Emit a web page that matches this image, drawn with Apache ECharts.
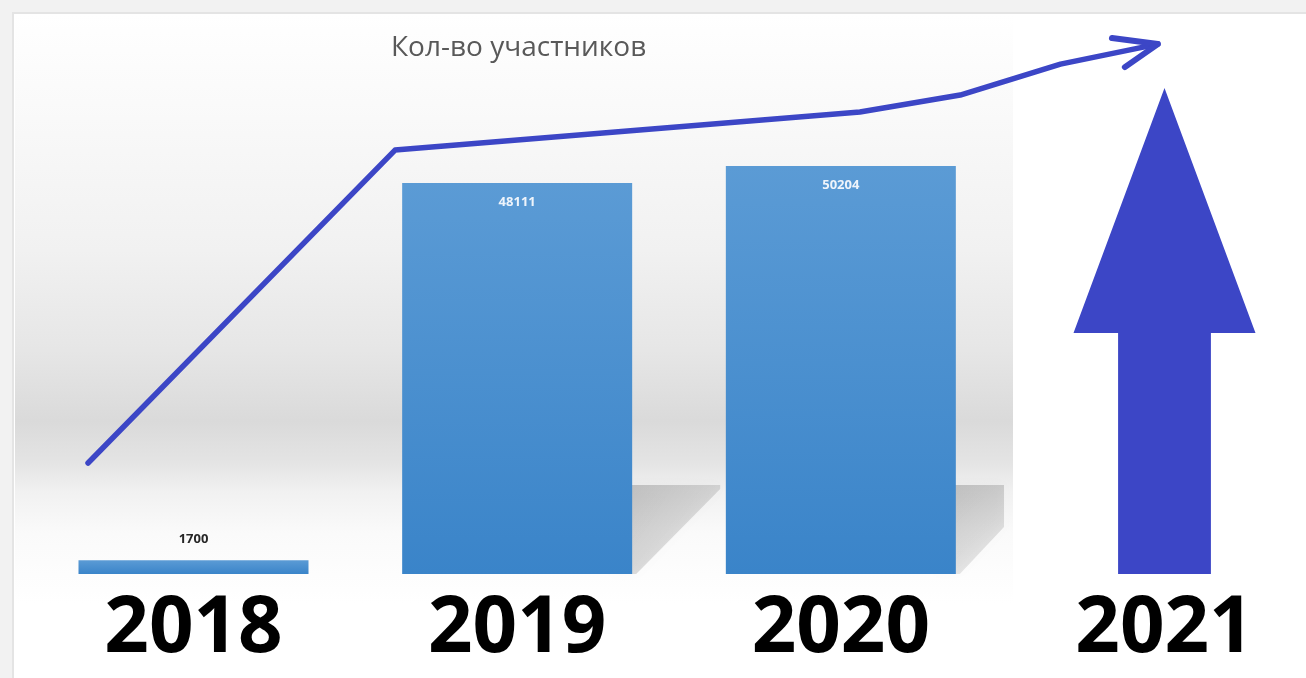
<!DOCTYPE html>
<html>
<head>
<meta charset="utf-8">
<script src="https://cdn.jsdelivr.net/npm/echarts@6/dist/echarts.min.js"></script>
<style>html,body{margin:0;padding:0;background:#fff;}#c{width:1306px;height:678px;}</style>
</head>
<body>
<div id="c"></div>
<script>
// ---- data ----
var categories = ['2018', '2019', '2020', '2021'];
var participants = [1700, 48111, 50204, null];
var growthArrow = [null, null, null, 59800];
// hand-drawn trend line: [category position, value]
var trendLine = [[-0.326, 13650], [0.623, 52150], [2.06, 56830], [2.37, 58920], [2.68, 62730], [2.981, 65190]];
var trendHead = [[2.839, 65930], [2.981, 65190], [2.879, 62360]];
var titleText = 'Кол-во участников';

var chart = echarts.init(document.getElementById('c'));
var BLUE = '#3c46c6';

function shadowItem(params, api) {
  var v = api.value(1);
  if (v == null || isNaN(v) || v < 10000) return null;
  var base = api.coord([api.value(0), 0]);
  var half = 115;
  var right = base[0] + half;
  var top = base[1] - 89;
  var maxX = 1004;
  var far = Math.min(right + 88, maxX);
  var tRatio = (far - right) / 88;
  var yFar = base[1] - 86 * tRatio;
  var pts = [[right - 20, top], [far, top], [far, Math.max(yFar, top + 4)], [right + 4, base[1]], [right - 20, base[1]]];
  return {
    type: 'polygon',
    shape: { points: pts },
    style: {
      fill: new echarts.graphic.LinearGradient(0, 0, 1, 1, [
        { offset: 0, color: 'rgba(0,0,0,0.20)' },
        { offset: 0.6, color: 'rgba(0,0,0,0.12)' },
        { offset: 1, color: 'rgba(0,0,0,0.05)' }
      ]),
      shadowBlur: 12,
      shadowColor: 'rgba(0,0,0,0.12)'
    }
  };
}

// grid geometry: category centres 193.5 + i*323.5 px
var G_LEFT = 193.5, G_RIGHT = 141.5, STEP = 323.5, W = 1306;

var option = {
  backgroundColor: '#ffffff',
  animation: false,
  graphic: [
    { type: 'rect', z: -100, shape: { x: 0, y: 0, width: 1306, height: 678 }, style: { fill: '#f2f2f2' } },
    { type: 'rect', z: -99, shape: { x: 12, y: 12, width: 1294, height: 666 }, style: { fill: '#e4e4e4' } },
    { type: 'rect', z: -98, shape: { x: 14, y: 14, width: 1292, height: 664 }, style: { fill: '#ffffff' } },
    { type: 'rect', z: -97, shape: { x: 15, y: 14, width: 998, height: 590 },
      style: { fill: new echarts.graphic.LinearGradient(0, 0, 0, 1, [
        { offset: 0, color: '#ffffff' },
        { offset: 0.15, color: '#fafafa' },
        { offset: 0.40, color: '#f1f1f1' },
        { offset: 0.57, color: '#e6e6e6' },
        { offset: 0.69, color: '#dadada' },
        { offset: 0.76, color: '#e4e4e4' },
        { offset: 0.81, color: '#f1f1f1' },
        { offset: 0.88, color: '#fafafa' },
        { offset: 1, color: '#ffffff' }
      ]) } }
  ],
  title: {
    text: titleText,
    left: 386, top: 29,
    textStyle: { fontFamily: 'Open Sans', fontSize: 28, fontWeight: 'normal', color: '#595959' }
  },
  grid: [
    { left: G_LEFT, right: G_RIGHT, top: 5, bottom: 104, containLabel: false },
    { left: 0, right: 0, top: 5, bottom: 104, containLabel: false }
  ],
  xAxis: [
    {
      type: 'category', data: categories, boundaryGap: false, gridIndex: 0,
      axisLine: { show: false }, axisTick: { show: false }, splitLine: { show: false },
      axisLabel: { fontFamily: 'Open Sans', fontWeight: 'bold', fontSize: 78, color: '#000', margin: 17 }
    },
    { type: 'value', gridIndex: 1, min: -G_LEFT / STEP, max: (W - G_LEFT) / STEP, show: false }
  ],
  yAxis: [
    { type: 'value', gridIndex: 0, min: 0, max: 70000, show: false, splitLine: { show: false } },
    { type: 'value', gridIndex: 1, min: 0, max: 70000, show: false, splitLine: { show: false } }
  ],
  series: [
    {
      type: 'custom', xAxisIndex: 0, yAxisIndex: 0, z: 1, silent: true, clip: false,
      data: participants.map(function (v, i) { return [i, v == null ? 0 : v]; }),
      renderItem: shadowItem
    },
    {
      type: 'bar', barWidth: 230, z: 2, clip: false,
      itemStyle: { color: new echarts.graphic.LinearGradient(0, 0, 0, 1, [
        { offset: 0, color: '#5b9bd5' }, { offset: 1, color: '#3a84c9' }
      ]) },
      label: {
        show: true,
        fontFamily: 'Open Sans', fontWeight: 'bold', fontSize: 13,
        formatter: function (p) { return p.value; },
        position: 'insideTop', distance: 13, color: '#eef4fb'
      },
      data: participants.map(function (v) {
        if (v != null && v < 10000) {
          return { value: v, label: { position: 'top', distance: 14, color: '#262626' } };
        }
        return v;
      })
    },
    {
      type: 'pictorialBar', data: growthArrow, z: 3, clip: false,
      symbol: 'path://M50,0 L100,50.4 L75.5,50.4 L75.5,100 L24.5,100 L24.5,50.4 L0,50.4 Z',
      symbolSize: [182, '100%'], symbolPosition: 'start',
      itemStyle: { color: BLUE }
    },
    {
      type: 'line', xAxisIndex: 1, yAxisIndex: 1, data: trendLine, z: 4, symbol: 'none', smooth: false,
      lineStyle: { color: BLUE, width: 5.5, cap: 'round', join: 'round' }
    },
    {
      type: 'line', xAxisIndex: 1, yAxisIndex: 1, data: trendHead, z: 4, symbol: 'none',
      lineStyle: { color: BLUE, width: 6, cap: 'round', join: 'round' }
    }
  ]
};
chart.setOption(option);
</script>
</body>
</html>
